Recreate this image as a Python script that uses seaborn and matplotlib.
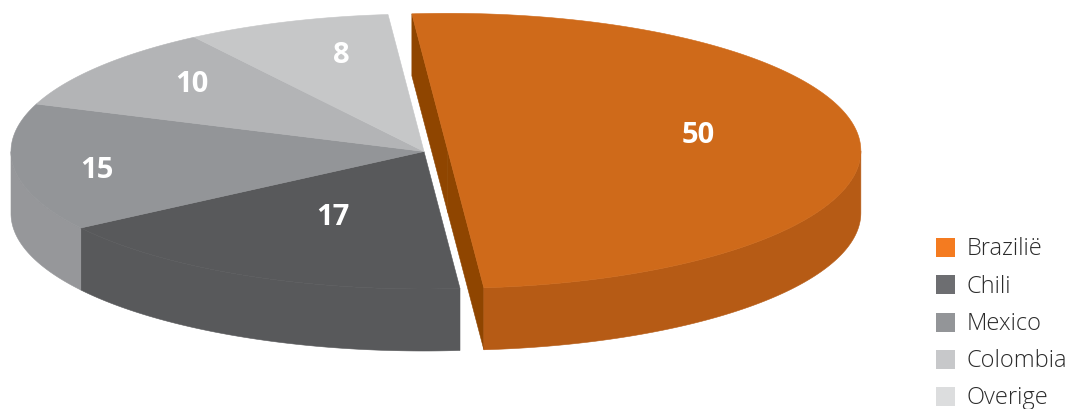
import numpy as np
import matplotlib
matplotlib.use("Agg")
import matplotlib.pyplot as plt
from matplotlib.patches import Polygon, Rectangle
import seaborn as sns

# Data
countries = ["Brazilië", "Chili", "Mexico", "Colombia", "Overige"]
shares = [50, 17, 15, 10, 8]

# Styling
top_colors = ["#CF6A1A", "#58595B", "#939598", "#B3B4B6", "#C6C7C8"]
side_colors = ["#B65B15", "#58595B", "#96979A", "#B3B4B6", "#C6C7C8"]
cut_colors = ["#8F4500", "#4A4B4D", "#7E7F82", "#9FA0A2", "#B4B5B7"]
legend_colors = ["#F47B20", "#6D6E71", "#939598", "#C7C8CA", "#DCDDDE"]
explode = [0.058, 0, 0, 0, 0]
label_r = [0.62, 0.51, 0.80, 0.76, 0.75]
label_turn = [7.5, 0, 1.5, -4, -4]

sns.set_theme(style="white")
plt.rcParams["font.family"] = ["Open Sans", "DejaVu Sans"]

W, H = 1072, 410
fig = plt.figure(figsize=(W / 100, H / 100), dpi=100)
ax = fig.add_axes([0, 0, 1, 1])
ax.set_xlim(0, W)
ax.set_ylim(H, 0)
ax.axis("off")

# Projected 3D pie geometry (pixel space, y downwards)
CX, CY, RX, RY, DEPTH = 424, 152.5, 413, 137.5, 62
START = 95.0

fr = np.asarray(shares, float) / np.sum(shares)
cum = np.concatenate([[0], np.cumsum(fr)])
t_start = START - 360 * cum[:-1]
t_end = START - 360 * cum[1:]


def rim(cx, cy, theta_deg, dz=0.0):
    t = np.radians(theta_deg)
    return np.column_stack([cx + RX * np.cos(t), cy - RY * np.sin(t) + dz])


centers = []
for i in range(len(shares)):
    mid = np.radians((t_start[i] + t_end[i]) / 2)
    centers.append((CX + explode[i] * RX * np.cos(mid),
                    CY - explode[i] * RY * np.sin(mid)))

# 1) radial cut faces that face the viewer
for i in range(len(shares)):
    cx, cy = centers[i]
    for th, visible in ((t_start[i], np.cos(np.radians(t_start[i])) < 0),
                        (t_end[i], np.cos(np.radians(t_end[i])) > 0)):
        if not visible or explode[i] == 0:
            continue
        p = rim(cx, cy, [th])[0]
        quad = [(cx, cy), tuple(p), (p[0], p[1] + DEPTH), (cx, cy + DEPTH)]
        ax.add_patch(Polygon(quad, closed=True, facecolor=cut_colors[i],
                             edgecolor=cut_colors[i], lw=0.4))

# 2) outer walls on the front half
for i in range(len(shares)):
    cx, cy = centers[i]
    hi, lo = t_start[i], t_end[i]
    # front half is where sin(theta) < 0, i.e. theta in (-180, 0) modulo 360
    for k in range(-2, 2):
        a0, a1 = -180 + 360 * k, 0 + 360 * k
        s, e = min(hi, a1), max(lo, a0)
        if s <= e:
            continue
        th = np.linspace(s, e, 200)
        top = rim(cx, cy, th)
        bot = rim(cx, cy, th[::-1], DEPTH)
        ax.add_patch(Polygon(np.vstack([top, bot]), closed=True,
                             facecolor=side_colors[i], edgecolor=side_colors[i],
                             lw=0.4))

# 3) top faces
for i in range(len(shares)):
    cx, cy = centers[i]
    th = np.linspace(t_start[i], t_end[i], 300)
    pts = np.vstack([[cx, cy], rim(cx, cy, th)])
    ax.add_patch(Polygon(pts, closed=True, facecolor=top_colors[i],
                         edgecolor=top_colors[i], lw=0.4))

# value labels
for i, v in enumerate(shares):
    cx, cy = centers[i]
    mid = np.radians((t_start[i] + t_end[i]) / 2 + label_turn[i])
    x = cx + label_r[i] * RX * np.cos(mid)
    y = cy - label_r[i] * RY * np.sin(mid)
    ax.text(x, y + 2, f"{v}", ha="center", va="center", color="white",
            fontsize=21, fontweight="bold")

# legend
LX, LY0, LSTEP, SQ = 936, 248.5, 37.25, 19
for i, name in enumerate(countries):
    yc = LY0 + i * LSTEP
    ax.add_patch(Rectangle((LX, yc - SQ / 2), SQ, SQ, facecolor=legend_colors[i],
                           edgecolor="none"))
    ax.text(LX + 31, yc + 1, name, ha="left", va="center", fontsize=17,
            color="#2B2B2B", fontweight="light")

fig.savefig("out.png", dpi=100)
